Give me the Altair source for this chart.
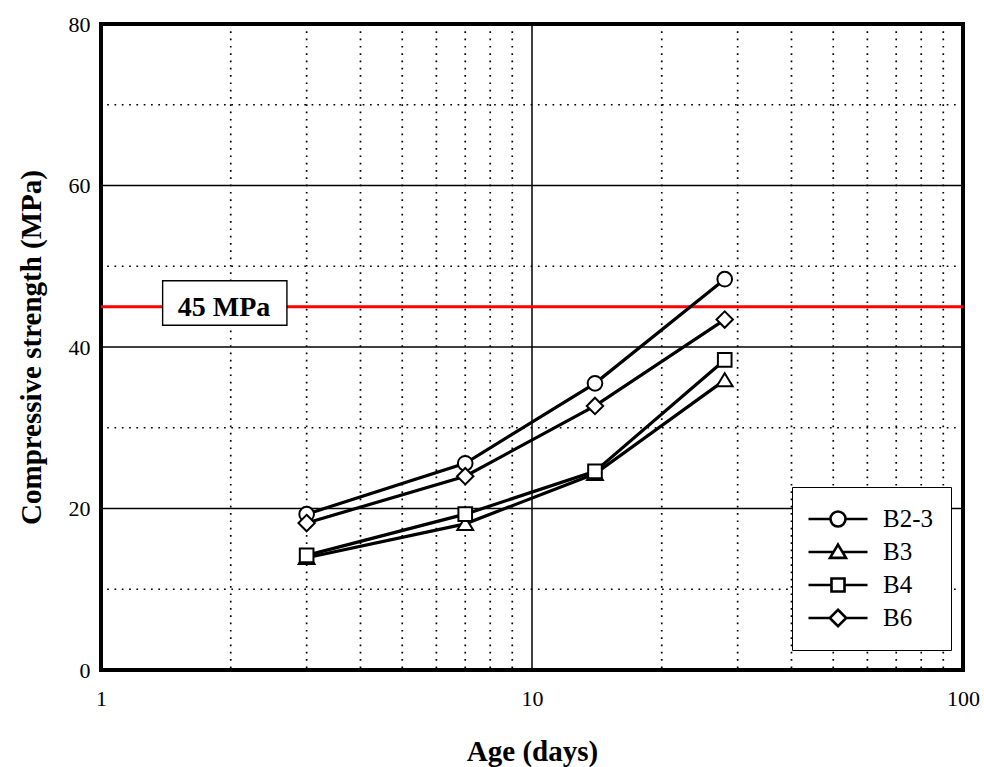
import altair as alt
import pandas as pd

# ---- data ----
ages = [3, 7, 14, 28]
series_names = ["B2-3", "B3", "B4", "B6"]
b2_3 = [19.3, 25.6, 35.5, 48.4]
b3 = [13.9, 18.1, 24.3, 35.9]
b4 = [14.2, 19.3, 24.6, 38.4]
b6 = [18.2, 24.0, 32.7, 43.4]

x_major = [10]
x_minor = [2, 3, 4, 5, 6, 7, 8, 9, 20, 30, 40, 50, 60, 70, 80, 90]
y_major = [20, 40, 60]
y_minor = [10, 30, 50, 70]
x_ticks = [1, 10, 100]
y_ticks = [0, 20, 40, 60, 80]

target_value = 45
target_label = "45 MPa"
label_box_x = [1.39, 2.70]
label_box_y = [42.7, 48.2]
label_x = 1.93

point_shapes = [
    "circle",
    "M0,-0.95L1.08,0.85L-1.08,0.85Z",
    "M-0.93,-0.93L0.93,-0.93L0.93,0.93L-0.93,0.93Z",
    "M0,-1.12L1.12,0L0,1.12L-1.12,0Z",
]
legend_shapes = [
    "M-2.4,0L-0.61,0M0.61,0L2.4,0M0.61,0C0.61,0.337,0.337,0.61,0,0.61C-0.337,0.61,-0.61,0.337,-0.61,0C-0.61,-0.337,-0.337,-0.61,0,-0.61C0.337,-0.61,0.61,-0.337,0.61,0Z",
    "M-2.4,0L-0.36,0M0.36,0L2.4,0M0,-0.6L0.65,0.48L-0.65,0.48Z",
    "M-2.4,0L-0.53,0M0.53,0L2.4,0M-0.53,-0.53L0.53,-0.53L0.53,0.53L-0.53,0.53Z",
    "M-2.4,0L-0.67,0M0.67,0L2.4,0M0,-0.67L0.67,0L0,0.67L-0.67,0Z",
]

rows = []
for name, vals in zip(series_names, [b2_3, b3, b4, b6]):
    for a, v in zip(ages, vals):
        rows.append({"age": a, "strength": v, "series": name})
df = pd.DataFrame(rows)

FONT = "Liberation Serif"

xscale = alt.Scale(type="log", domain=[1, 100], nice=False)
yscale = alt.Scale(domain=[0, 80], nice=False)

xaxis = alt.Axis(values=x_ticks, format="d", title="Age (days)", grid=False, ticks=False,
                 domain=False, labelFont=FONT, labelFontSize=22, labelColor="black",
                 labelPadding=18, titleFont=FONT, titleFontSize=29, titleFontWeight="bold",
                 titleColor="black", titlePadding=28, labelFlush=False)
yaxis = alt.Axis(values=y_ticks, title="Compressive strength (MPa)", grid=False, ticks=False,
                 domain=False, labelFont=FONT, labelFontSize=22, labelColor="black",
                 labelPadding=11, titleFont=FONT, titleFontSize=29, titleFontWeight="bold",
                 titleColor="black", titlePadding=22)

base = alt.Chart(df)

x_enc = alt.X("age:Q", scale=xscale, axis=xaxis)
y_enc = alt.Y("strength:Q", scale=yscale, axis=yaxis)

ymaj = alt.Chart(pd.DataFrame({"v": y_major})).mark_rule(color="black", strokeWidth=1.5).encode(
    y=alt.Y("v:Q", scale=yscale))
ymin = alt.Chart(pd.DataFrame({"v": y_minor})).mark_rule(
    color="black", strokeWidth=1.7, strokeDash=[1.7, 5.6]).encode(y=alt.Y("v:Q", scale=yscale))
xmaj = alt.Chart(pd.DataFrame({"v": x_major})).mark_rule(color="black", strokeWidth=1.5).encode(
    x=alt.X("v:Q", scale=xscale))
xmin = alt.Chart(pd.DataFrame({"v": x_minor})).mark_rule(
    color="black", strokeWidth=1.7, strokeDash=[1.7, 5.6]).encode(x=alt.X("v:Q", scale=xscale))

red = alt.Chart(pd.DataFrame({"v": [target_value]})).mark_rule(color="#ff0000", strokeWidth=3).encode(
    y=alt.Y("v:Q", scale=yscale))

box_df = pd.DataFrame({"x1": [label_box_x[0]], "x2": [label_box_x[1]],
                       "y1": [label_box_y[0]], "y2": [label_box_y[1]],
                       "tx": [label_x], "ty": [target_value], "t": [target_label]})
box = alt.Chart(box_df).mark_rect(fill="white", stroke="black", strokeWidth=1.4).encode(
    x=alt.X("x1:Q", scale=xscale), x2="x2:Q", y=alt.Y("y1:Q", scale=yscale), y2="y2:Q")
box_text = alt.Chart(box_df).mark_text(font=FONT, fontSize=28, fontWeight="bold", color="black",
                                       baseline="middle", align="center", dy=1).encode(
    x=alt.X("tx:Q", scale=xscale), y=alt.Y("ty:Q", scale=yscale), text="t:N")

lines = base.mark_line(color="black", strokeWidth=3.2).encode(
    x=x_enc, y=y_enc, detail="series:N", order="age:Q")

points = base.mark_point(filled=True, fill="white", stroke="black", strokeWidth=2, size=215,
                         opacity=1).encode(
    x=x_enc, y=y_enc,
    shape=alt.Shape("series:N", scale=alt.Scale(domain=series_names, range=point_shapes), legend=None))

legend_layer = base.transform_filter("false").mark_point(
    filled=False, color="black", strokeWidth=2.6, opacity=1).encode(
    x=x_enc, y=y_enc,
    shape=alt.Shape("series:N", scale=alt.Scale(domain=series_names, range=legend_shapes),
                    legend=alt.Legend(title=None, orient="none", legendX=691, legendY=463,
                                      strokeColor="black", fillColor="white", padding=18,
                                      labelFont=FONT, labelFontSize=25, labelColor="black",
                                      symbolSize=605, symbolStrokeWidth=2.6,
                                      symbolStrokeColor="black",
                                      symbolOffset=14, rowPadding=6, labelOffset=31,
                                      symbolOpacity=1)))

chart = alt.layer(ymin, xmin, ymaj, xmaj, red, box, box_text, lines, points, legend_layer).resolve_scale(
    shape="independent").properties(
    width=862, height=646, autosize="none",
    padding={"left": 101, "top": 24, "right": 21, "bottom": 97},
    background="white",
).configure_view(stroke="black", strokeWidth=4)

chart.save("out.html", embed_options={"renderer": "svg", "actions": False})
